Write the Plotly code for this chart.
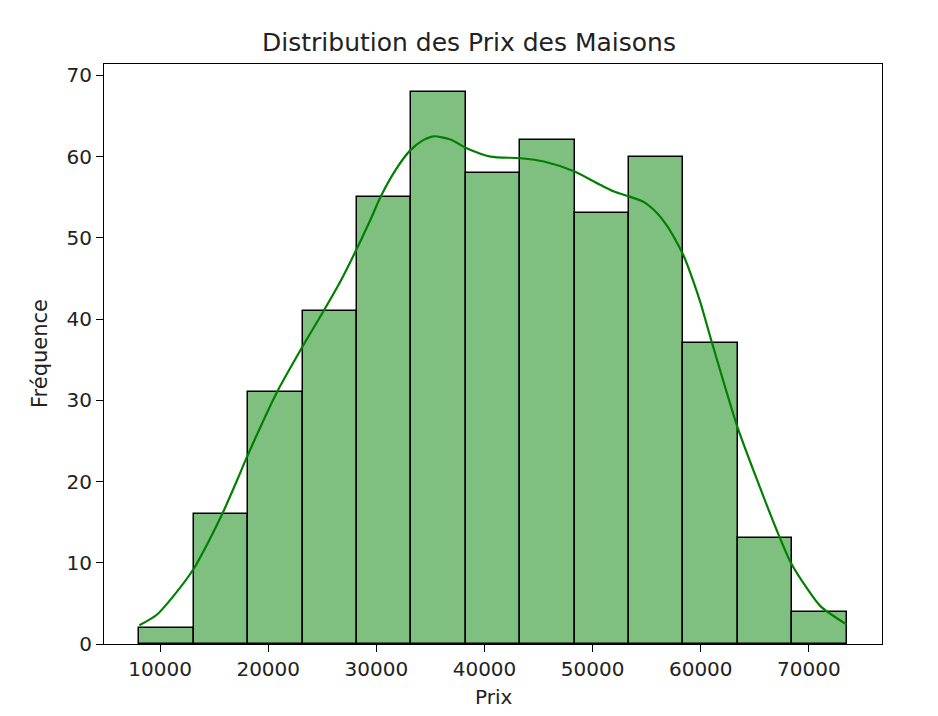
import numpy as np
import plotly.graph_objects as go

# Histogram data
counts = [2, 16, 31, 41, 55, 68, 58, 62, 53, 60, 37, 13, 4]
price_min = 8083
price_max = 73491

# KDE curve points
kde_x = [8083, 9695, 11230, 13080, 14630, 15710, 17100, 18025, 20806, 23120,
         25120, 26820, 29444, 30370, 31800, 33148, 34300, 35309, 36850,
         38400, 40556, 43333, 45490, 48270, 50741, 51975, 53364, 54750, 55990,
         56917, 57840, 58450, 59380, 60000, 60926, 63395, 65556, 67000,
         68333, 69800, 71111, 73491]
kde_y = [2.3, 3.6, 5.9, 9.2, 13.0, 15.9, 20.1, 23.0, 31.0, 36.5,
         41.0, 45.0, 52.2, 55.0, 58.4, 60.8, 62.0, 62.5, 62.1,
         61.0, 60.0, 59.8, 59.4, 58.2, 56.5, 55.7, 55.1, 54.4, 53.0,
         51.4, 49.3, 47.7, 44.4, 41.9, 37.6, 26.7, 19.0, 14.1,
         10.0, 6.9, 4.6, 2.4]

edges = np.linspace(price_min, price_max, len(counts) + 1)
centers = (edges[:-1] + edges[1:]) / 2
bw = edges[1] - edges[0]

fig = go.Figure()
fig.add_trace(go.Bar(
    x=centers, y=counts, width=[bw] * len(counts),
    marker=dict(color="rgba(0,128,0,0.5)", line=dict(color="black", width=1.5)),
    showlegend=False, hoverinfo="x+y",
))
fig.add_trace(go.Scatter(
    x=kde_x, y=kde_y, mode="lines", line=dict(color="#008000", width=2.2, shape="spline", smoothing=0.7),
    showlegend=False,
))

FONT = "DejaVu Sans"
xr_pad = (price_max - price_min) * 0.05
axis_common = dict(
    showline=True, linecolor="black", linewidth=1.2, mirror=True,
    ticks="outside", ticklen=7, tickwidth=1.2, tickcolor="black",
    showgrid=False, zeroline=False, automargin=False,
    tickfont=dict(family=FONT, size=20, color="#222"),
)
W, H = 922, 700
L, T, R, B = 96, 56, 874, 636
fig.update_layout(
    width=W, height=H,
    margin=dict(l=L, r=W - R, t=T, b=H - B),
    plot_bgcolor="white", paper_bgcolor="white",
    bargap=0,
    title=dict(text="Distribution des Prix des Maisons", x=0.5, xanchor="center",
               y=1 - 34 / H, yanchor="middle",
               font=dict(family=FONT, size=25, color="#222")),
    xaxis=dict(range=[price_min - xr_pad, price_max + xr_pad],
               tickmode="array", tickvals=[10000, 20000, 30000, 40000, 50000, 60000, 70000],
               ticktext=["10000", "20000", "30000", "40000", "50000", "60000", "70000"],
               **axis_common),
    yaxis=dict(range=[0, 71.4], tickmode="array", tickvals=[0, 10, 20, 30, 40, 50, 60, 70],
               **axis_common),
    annotations=[
        dict(text="Prix", xref="paper", yref="paper", x=0.5, y=(B - 689) / (B - T),
             xanchor="center", yanchor="middle", showarrow=False,
             font=dict(family=FONT, size=20, color="#222")),
        dict(text="Fréquence", xref="paper", yref="paper", x=(32 - L) / (R - L), y=0.5,
             xanchor="center", yanchor="middle", showarrow=False, textangle=-90,
             font=dict(family=FONT, size=21, color="#222")),
    ],
)
fig.write_html("out.html")
